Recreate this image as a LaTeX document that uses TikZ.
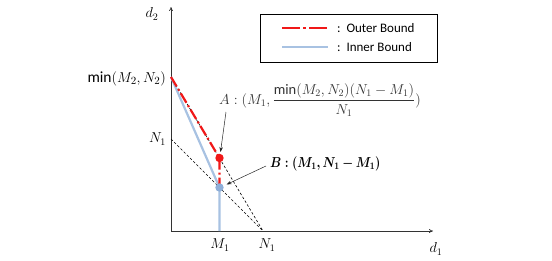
\documentclass[tikz,border=0pt]{standalone}
\usepackage{amsmath}
\usepackage{bm}
\usepackage{graphicx}
\usepackage[no-math]{fontspec}
\setmainfont{Carlito}
\usetikzlibrary{arrows.meta}
\definecolor{outerred}{HTML}{F01818}
\definecolor{innerblue}{HTML}{A8C2E2}
\definecolor{dotblue}{HTML}{8EAED8}
\tikzset{
  axis/.style={draw=black!80, line width=0.7pt, -{To[length=4pt,width=4pt]}},
  guide/.style={draw=black, line width=0.6pt, dash pattern=on 2.5pt off 2pt},
  outerline/.style={draw=outerred, line width=2.2pt, dash pattern=on 11pt off 3pt on 2pt off 3pt},
  legouter/.style={draw=outerred, line width=2.2pt, dash pattern=on 18pt off 3pt on 3pt off 3pt},
  innerline/.style={draw=innerblue, line width=2.2pt},
  pointer/.style={draw=black!85, line width=0.5pt, -{Stealth[length=5pt,width=3.5pt]}},
  lbl/.style={inner sep=0pt, font=\fontsize{14.5}{17}\selectfont},
  legtext/.style={inner sep=0pt, anchor=west, font=\fontsize{13}{15}\selectfont},
}
\begin{document}
\begin{tikzpicture}[x=1pt,y=-1pt]
\useasboundingbox (0,0) rectangle (552,260);
% key points
\coordinate (O) at (171,231);
\coordinate (P) at (171,77);
\coordinate (Q) at (171,139);
\coordinate (R) at (263,231);
\coordinate (A) at (219.5,158);
\coordinate (B) at (219.5,187.5);
\coordinate (M) at (219.5,231);
\coordinate (ytop) at (171,7);
\coordinate (xend) at (433,231);
% axes
\draw[axis] (O) -- (ytop);
\draw[axis] (O) -- (xend);
% guide lines
\draw[guide] (Q) -- (R);
\draw[guide] (P) -- (R);
% bounds
\draw[innerline] (P) -- (B) -- (M);
\draw[outerline] (P) -- (A) -- (B);
\fill[outerred] (A) circle (4.2pt);
\fill[dotblue] (B) circle (4.2pt);
% axis labels
\node[lbl] (d2) at (152,14) {$d_2$};
\node[lbl] (d1) at (436,249) {$d_1$};
\node[lbl] (m1) at (220,245) {$M_1$};
\node[lbl] (n1x) at (267,245) {$N_1$};
\node[lbl, anchor=east] (n1y) at (166,139) {$N_1$};
\node[lbl, anchor=east, font=\fontsize{15.5}{18}\selectfont] (minl) at (166,79) {$\text{min}(M_2,N_2)$};
% legend
\node[draw=black, line width=1pt, minimum width=177pt, minimum height=48pt, inner sep=0pt] (leg) at (348.5,38) {};
\coordinate (lo1) at (282,28); \coordinate (lo2) at (328,28);
\coordinate (li1) at (282,47); \coordinate (li2) at (328,47);
\draw[legouter] (lo1) -- (lo2);
\draw[innerline] (li1) -- (li2);
\node[legtext] (tout) at (337,28) {:\ \ Outer Bound};
\node[legtext] (tin) at (337,47) {:\ \ Inner Bound};
% point labels
\node[lbl, anchor=west, text=black!80] (Alab) at (219,100) {$A:(M_1,\dfrac{\text{min}(M_2,N_2)(N_1-M_1)}{N_1})$};
\node[lbl, anchor=west, font=\fontsize{14}{16}\selectfont] (Blab) at (270,164) {\scalebox{0.85}[1]{$\bm{B:(M_1,N_1-M_1)}$}};
\coordinate (Aa) at (226,112);
\coordinate (Ba) at (266,166);
\draw[pointer] (Aa) -- ([shift={(1,-6)}]A);
\draw[pointer] (Ba) -- ([shift={(7,-3)}]B);
\end{tikzpicture}
\end{document}
